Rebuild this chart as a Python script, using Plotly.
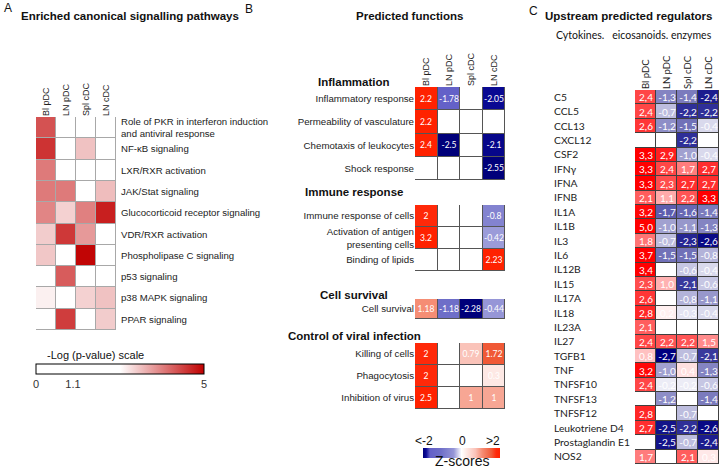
import plotly.graph_objects as go

W, H = 720, 468
def px(x): return x / W
def py(y): return 1 - y / H

ARIAL = "Liberation Sans, Arial, sans-serif"
CALI = "Lato, Carlito, sans-serif"

# ---------------- Panel A data ----------------
a_cols = ["Bl pDC", "LN pDC", "Spl cDC", "LN cDC"]
a_rows = ["Role of PKR in interferon induction<br>and antiviral response", "NF-κB signaling",
          "LXR/RXR activation", "JAK/Stat signaling", "Glucocorticoid receptor signaling",
          "VDR/RXR activation", "Phospholipase C signaling", "p53 signaling",
          "p38 MAPK signaling", "PPAR signaling"]
a_vals = [
    [4.2, None, None, None],
    [4.5, None, 3.1, None],
    [3.8, None, None, None],
    [3.8, 3.8, None, 3.15],
    [3.7, 2.95, 3.75, 4.7],
    [3.0, 4.45, 3.5, None],
    [3.05, None, 4.95, None],
    [None, 4.1, None, None],
    [2.65, None, 2.95, 3.1],
    [None, 4.4, None, 3.0],
]
a_ticks = [0, 1.1, 5]

# ---------------- Panel B data ----------------
b_cols = ["Bl pDC", "LN pDC", "Spl cDC", "LN cDC"]
b_groups = ["Inflammation", "Immune response", "Cell survival", "Control of viral infection"]
b_rows = [
    ["Inflammatory response", "Permeability of vasculature", "Chemotaxis of leukocytes", "Shock response"],
    ["Immune response of cells", "Activation of antigen<br>presenting cells", "Binding of lipids"],
    ["Cell survival"],
    ["Killing of cells", "Phagocytosis", "Inhibition of virus"],
]
b_vals = [
    [[2.2, -1.78, None, -2.05],
     [2.2, None, None, None],
     [2.4, -2.5, None, -2.1],
     [None, None, None, -2.55]],
    [[2, None, None, -0.8],
     [3.2, None, None, -0.42],
     [None, None, None, 2.23]],
    [[1.18, -1.18, -2.28, -0.44]],
    [[2, None, 0.79, 1.72],
     [2, None, None, 0.3],
     [2.5, None, 1, 1]],
]
b_legend = ["<-2", "0", ">2"]

# ---------------- Panel C data ----------------
c_cols = ["Bl pDC", "LN pDC", "Spl cDC", "LN cDC"]
c_rows = ["C5", "CCL5", "CCL13", "CXCL12", "CSF2", "IFNγ", "IFNA", "IFNB", "IL1A", "IL1B",
          "IL3", "IL6", "IL12B", "IL15", "IL17A", "IL18", "IL23A", "IL27", "TGFB1", "TNF",
          "TNFSF10", "TNFSF13", "TNFSF12", "Leukotriene D4", "Prostaglandin E1", "NOS2"]
c_vals = [
    [2.4, -1.3, -1.4, -2.4],
    [2.4, -0.7, -2.2, -2.2],
    [2.6, -1.2, -1.5, -0.4],
    [None, None, -2.2, None],
    [3.3, 2.9, -1.0, -0.4],
    [3.3, 2.4, 1.7, 2.7],
    [3.3, 2.3, 2.7, 2.7],
    [2.1, 1.1, 2.2, 3.3],
    [3.2, -1.7, -1.6, -1.4],
    [5.0, -1.0, -1.1, -1.3],
    [1.8, -0.7, -2.3, -2.6],
    [3.7, -1.5, -1.5, -0.8],
    [3.4, None, -0.6, -0.4],
    [2.3, 1.0, -2.1, -0.6],
    [2.6, None, -0.8, -1.1],
    [2.8, 0.2, -0.3, -0.4],
    [2.1, None, None, None],
    [2.4, 2.2, 2.2, 1.5],
    [0.8, -2.7, -0.7, -2.1],
    [3.2, -1.0, 0.4, -1.3],
    [2.4, -0.2, -0.2, -0.6],
    [None, -1.2, None, -1.4],
    [2.8, None, -0.7, None],
    [2.7, -2.5, -2.2, -2.6],
    [None, -2.5, -0.7, -2.4],
    [1.7, None, 2.1, 0.3],
]

A_SCALE = [[0, "#ffffff"], [0.5, "#ffffff"], [1, "#c00000"]]
B_SCALE = [[0, "#00007a"], [0.04, "#0a0a96"], [0.09, "#6460c8"], [0.23, "#6e6ec8"],
           [0.4, "#9696d7"], [0.5, "#ffffff"], [0.68, "#fac3b9"], [0.77, "#f58c73"],
           [0.89, "#f05a37"], [0.95, "#ff2a0a"], [1, "#ff2200"]]
C_SCALE = [[0, "#000080"], [0.45, "#ffffff"], [1, "#ff0000"]]

fig = go.Figure()

def grid(xa, ya, cols, rows, vals, line_color, scale, zmin, zmax, fmt=None,
         tsize=9, gap=1, colorbar=None):
    ones = [[1 for _ in cols] for _ in rows]
    fig.add_trace(go.Heatmap(x=cols, y=rows, z=ones, xaxis=xa, yaxis=ya,
                             colorscale=[[0, line_color], [1, line_color]],
                             showscale=False, hoverinfo="skip"))
    fig.add_trace(go.Heatmap(x=cols, y=rows, z=ones, xaxis=xa, yaxis=ya,
                             colorscale=[[0, "#ffffff"], [1, "#ffffff"]], xgap=gap, ygap=gap,
                             showscale=False, hoverinfo="skip"))
    kw = {}
    if fmt is not None:
        kw["text"] = [["" if v is None else fmt(v) for v in r] for r in vals]
        kw["texttemplate"] = "%{text}"
        kw["textfont"] = dict(color="white", size=tsize, family=CALI)
    fig.add_trace(go.Heatmap(x=cols, y=rows, z=vals, xaxis=xa, yaxis=ya,
                             colorscale=scale, zmin=zmin, zmax=zmax, xgap=gap, ygap=gap,
                             showscale=colorbar is not None, colorbar=colorbar,
                             hoverongaps=False, **kw))

# Panel A
grid("x", "y", a_cols, a_rows, a_vals, "#a8a8a8", A_SCALE, 0, 5,
     colorbar=dict(orientation="h", x=px(120), xanchor="center", y=py(364), yanchor="top",
                   len=168, lenmode="pixels", thickness=10, thicknessmode="pixels",
                   xpad=0, ypad=0, outlinecolor="black", outlinewidth=1,
                   tickvals=a_ticks, ticktext=[str(t) for t in a_ticks], ticks="",
                   tickfont=dict(family=ARIAL, size=11, color="#333")))

# Panel B
b_y = [(87, 180), (205, 271), (299, 319), (343, 409)]
for i in range(4):
    xa = "x%d" % (i + 2)
    ya = "y%d" % (i + 2)
    cb = None
    if i == 0:
        cb = dict(orientation="h", x=px(461.5), xanchor="center", y=py(448), yanchor="top",
                  len=77, lenmode="pixels", thickness=10, thicknessmode="pixels",
                  xpad=0, ypad=0, outlinewidth=0, showticklabels=False, ticks="",
                  tickvals=[-2, 0, 2])
    grid(xa, ya, b_cols, b_rows[i], b_vals[i], "#555555", B_SCALE, -2.2, 2.2,
         fmt=lambda v: f"{v:g}", tsize=8.5, colorbar=cb)

# Panel C
grid("x6", "y6", c_cols, c_rows, c_vals, "#404040", C_SCALE, -2.7, 3.3,
     fmt=lambda v: f"{v:.1f}".replace(".", ","), tsize=10)

ax_common = dict(showgrid=False, zeroline=False, showline=False, ticks="", fixedrange=True)

layout = dict(
    width=W, height=H, margin=dict(l=0, r=0, t=0, b=0),
    paper_bgcolor="white", plot_bgcolor="white", showlegend=False,
    xaxis=dict(ax_common, domain=[px(36), px(116)], side="top", tickangle=-90, anchor="y",
               tickfont=dict(family=ARIAL, size=9, color="#222")),
    yaxis=dict(ax_common, domain=[py(330), py(117)], side="right", autorange="reversed",
               anchor="x", ticklabelstandoff=4,
               tickfont=dict(family=ARIAL, size=9.6, color="#222")),
    xaxis6=dict(ax_common, domain=[px(635), px(719)], side="top", tickangle=-90, anchor="y6",
                tickfont=dict(family=CALI, size=9.5, color="#222")),
    yaxis6=dict(ax_common, domain=[py(464), py(90)], side="right", autorange="reversed",
                anchor="free", position=px(553), tickfont=dict(family=CALI, size=10.3, color="#222")),
)
for i in range(4):
    n = i + 2
    y0, y1 = b_y[i]
    layout["xaxis%d" % n] = dict(ax_common, domain=[px(415), px(505)], anchor="y%d" % n,
                                 side="top", tickangle=-90, showticklabels=(i == 0),
                                 tickfont=dict(family=ARIAL, size=9, color="#222"))
    layout["yaxis%d" % n] = dict(ax_common, domain=[py(y1), py(y0)], anchor="x%d" % n,
                                 autorange="reversed",
                                 tickfont=dict(family=ARIAL, size=9.7, color="#222"))
fig.update_layout(**layout)

def note(text, x, y, size, anchor="center", bold=False, family=ARIAL, color="#111"):
    fig.add_annotation(text=f"<b>{text}</b>" if bold else text, x=px(x), y=py(y),
                       xref="paper", yref="paper", xanchor=anchor, yanchor="middle",
                       showarrow=False, font=dict(family=family, size=size, color=color))

note("A", 2, 8, 12, "left")
note("Enriched canonical signalling pathways", 130, 16, 11.5, bold=True)
note("B", 243, 9, 12, "left")
note("Predicted functions", 409, 16, 11.5, bold=True)
note("C", 527, 11, 12, "left")
note("Upstream predicted regulators", 628, 16, 11.5, bold=True)
note("Cytokines.   eicosanoids. enzymes", 634, 35, 10.5, family=CALI)
for g, yy in zip(b_groups, [82, 192, 295, 336]):
    note(g, 354, yy, 11.5, bold=True)
note("-Log (p-value) scale", 45, 355, 11, "left")
for t, xx in zip(b_legend, [424, 462, 493]):
    note(t, xx, 441, 12)
note("Z-scores", 462, 461, 14)

fig.write_html("out.html", config={"displayModeBar": False},
               post_script="document.body.style.margin='0';document.body.style.overflow='hidden';")
